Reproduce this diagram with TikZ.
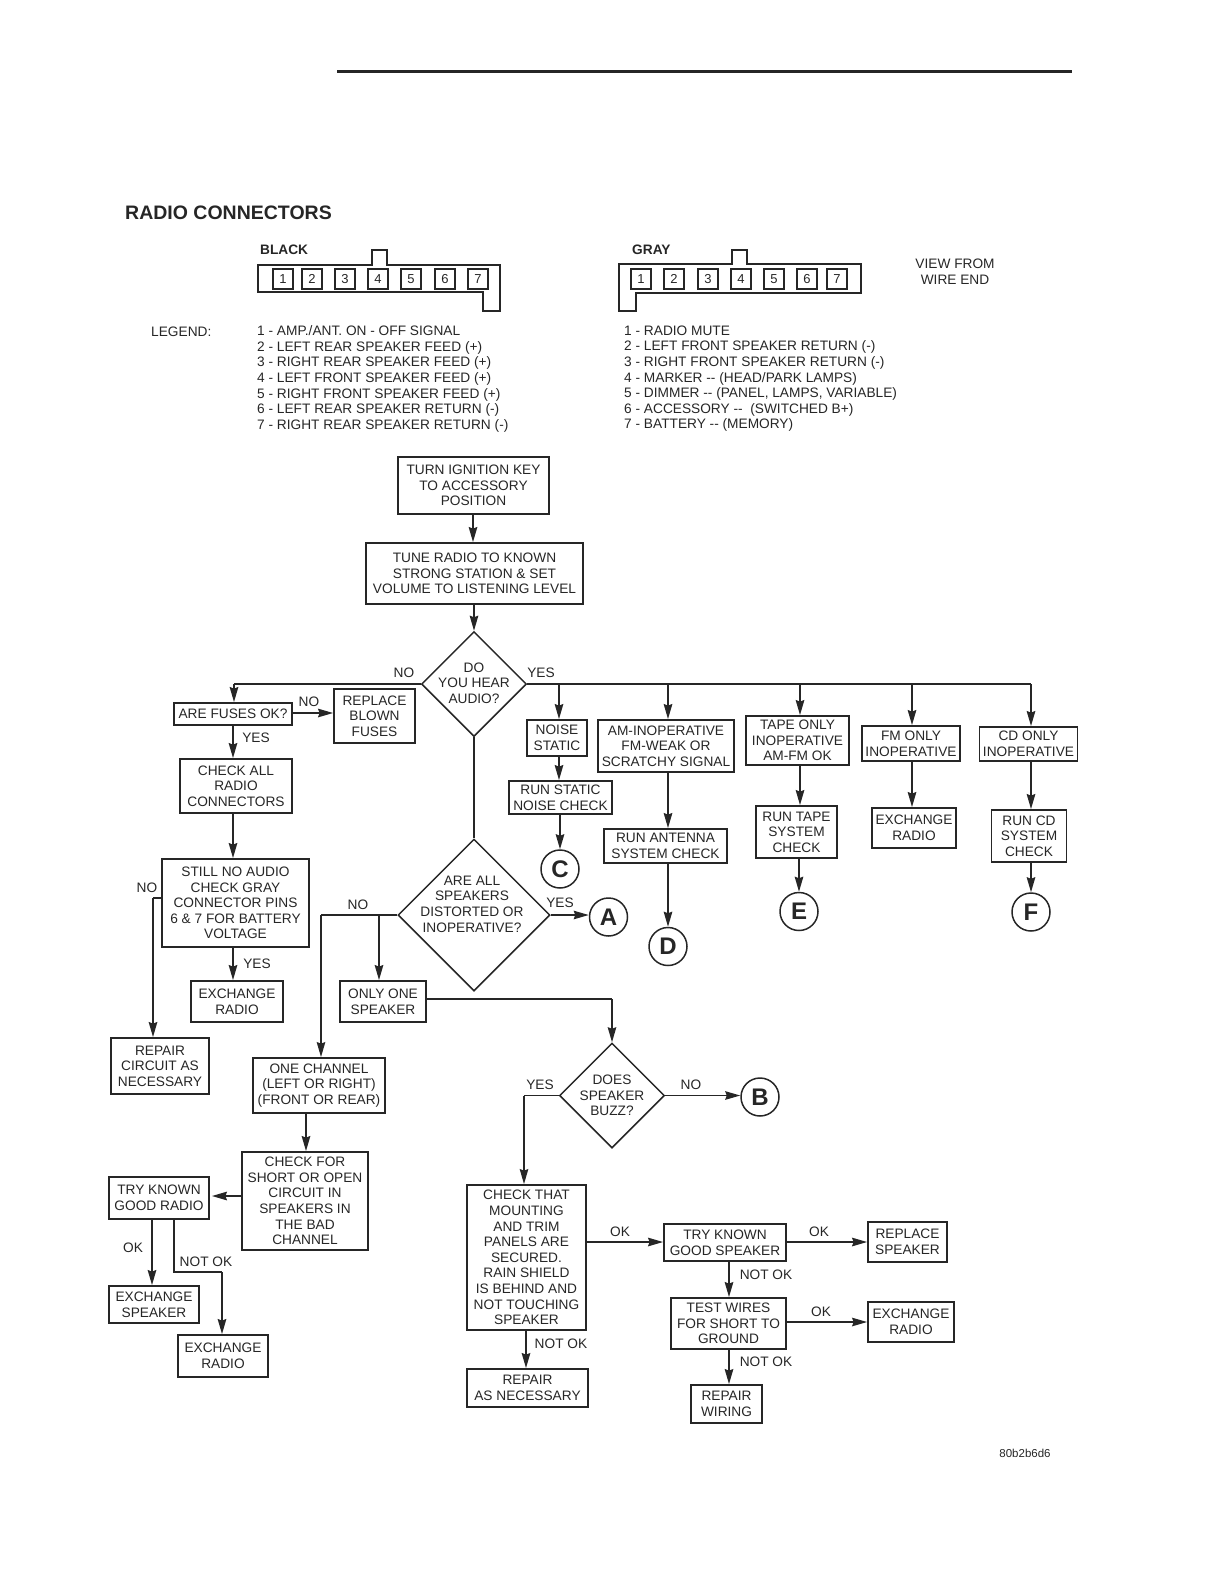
\documentclass[tikz,border=0pt]{standalone}
\usepackage{fontspec}
\setmainfont{Liberation Sans}
\usetikzlibrary{
    positioning,
    arrows.meta,
    shapes.geometric,
}
\colorlet{ink}{black!85}
\tikzset{
    % Node styles
    box/.style={rectangle, draw=ink, line width=1.8pt, inner sep=0pt, align=center,
                text=ink, font=\fontsize{13.7}{15.6}\selectfont},
    decision/.style={diamond, draw=ink, line width=1.5pt, aspect=1, inner sep=0pt},
    qtext/.style={align=center, text=ink, inner sep=0pt, font=\fontsize{13.7}{15.6}\selectfont},
    jump/.style={circle, draw=ink, line width=1.5pt, minimum size=38pt, inner sep=0pt,
                 text=ink, font=\fontsize{24}{24}\bfseries\selectfont},
    pinbox/.style={rectangle, draw=ink, line width=1.6pt, minimum size=20pt, inner sep=0pt,
                   text=ink, font=\fontsize{13}{15}\selectfont},
    % Connector styles
    arrow/.style={draw=ink, line width=1.8pt, -{Stealth[length=15pt, width=8.5pt, inset=1.5pt]}},
    wire/.style={draw=ink, line width=1.5pt},
    % Text styles
    tag/.style={text=ink, inner sep=0pt, font=\fontsize{13.7}{15.6}\selectfont},
    legend/.style={tag, align=left, anchor=north west},
}
\begin{document}
\begin{tikzpicture}[x=1pt, y=-1pt]
    \useasboundingbox (0,0) rectangle (1224,1584);

    % Header
    \coordinate (rulestart) at (337,72);
    \coordinate (ruleend) at (1072,72);
    \draw[ink, line width=3pt] (rulestart) -- (ruleend);
    \node[tag, anchor=base west, font=\fontsize{19.5}{24}\bfseries\selectfont] (title) at (125,219) {RADIO CONNECTORS};

    % Connectors
    \node[tag, anchor=base west, font=\fontsize{13.7}{16}\bfseries\selectfont] (black) at (260,254) {BLACK};
    \draw[wire, line width=2pt] (258,265) -| (372,250) -| (387,265) -| (500,311) -| (483,292) -| cycle;
    \foreach \n/\x in {1/283, 2/312, 3/345, 4/378, 5/411, 6/445, 7/478}
        \node[pinbox] (bk\n) at (\x,279) {\n};

    \node[tag, anchor=base west, font=\fontsize{13.7}{16}\bfseries\selectfont] (gray) at (632,254) {GRAY};
    \draw[wire, line width=2pt] (619,264) -| (732,250) -| (747,264) -| (861,293) -| (636,311) -| cycle;
    \foreach \n/\x in {1/641, 2/674, 3/708, 4/741, 5/774, 6/807, 7/837}
        \node[pinbox] (gy\n) at (\x,279) {\n};

    \node[tag, align=center] (view) at (955,271.5) {VIEW FROM\\WIRE END};

    % Legend
    \node[tag, anchor=west] (legendtitle) at (151,332) {LEGEND:};
    \node[legend] (blacklist) at (257,325.5) {
        1 - AMP./ANT. ON - OFF SIGNAL\\
        2 - LEFT REAR SPEAKER FEED (+)\\
        3 - RIGHT REAR SPEAKER FEED (+)\\
        4 - LEFT FRONT SPEAKER FEED (+)\\
        5 - RIGHT FRONT SPEAKER FEED (+)\\
        6 - LEFT REAR SPEAKER RETURN (-)\\
        7 - RIGHT REAR SPEAKER RETURN (-)
    };
    \node[legend] (graylist) at (624,325.5) {
        1 - RADIO MUTE\\
        2 - LEFT FRONT SPEAKER RETURN (-)\\
        3 - RIGHT FRONT SPEAKER RETURN (-)\\
        4 - MARKER -{}- (HEAD/PARK LAMPS)\\
        5 - DIMMER -{}- (PANEL, LAMPS, VARIABLE)\\
        6 - ACCESSORY -{}-\ \ (SWITCHED B+)\\
        7 - BATTERY -{}- (MEMORY)
    };

    % Start of the chart
    \node[box, minimum width=151pt, minimum height=57pt] (turn) at (473.5,485.5) {TURN IGNITION KEY\\TO ACCESSORY\\POSITION};
    \node[box, minimum width=217pt, minimum height=61pt] (tune) at (474.5,573.5) {TUNE RADIO TO KNOWN\\STRONG STATION \& SET\\VOLUME TO LISTENING LEVEL};
    \node[decision, minimum width=105pt, minimum height=105pt, label={[qtext, yshift=1pt]center:DO\\YOU HEAR\\AUDIO?}] (hear) at (474,684) {};

    % No audio branch
    \node[box, minimum width=118pt, minimum height=22pt] (fuses) at (233,714) {ARE FUSES OK?};
    \node[box, minimum width=81pt, minimum height=54pt] (replace) at (374.5,716) {REPLACE\\BLOWN\\FUSES};
    \node[box, minimum width=112pt, minimum height=54pt] (chkall) at (236,786) {CHECK ALL\\RADIO\\CONNECTORS};
    \node[box, minimum width=147pt, minimum height=88pt] (still) at (235.5,903) {STILL NO AUDIO\\CHECK GRAY\\CONNECTOR PINS\\6 \& 7 FOR BATTERY\\VOLTAGE};
    \node[box, minimum width=92pt, minimum height=41pt] (exradio) at (237,1001.5) {EXCHANGE\\RADIO};
    \node[box, minimum width=98pt, minimum height=56pt] (repcircuit) at (160,1066) {REPAIR\\CIRCUIT AS\\NECESSARY};

    % Audio branches
    \node[box, minimum width=60pt, minimum height=36pt] (noise) at (557,738) {NOISE\\STATIC};
    \node[box, minimum width=103pt, minimum height=33pt] (runstatic) at (560.5,797.5) {RUN STATIC\\NOISE CHECK};
    \node[box, minimum width=136pt, minimum height=52pt] (am) at (666,746) {AM-INOPERATIVE\\FM-WEAK OR\\SCRATCHY SIGNAL};
    \node[box, minimum width=123pt, minimum height=34pt] (runant) at (665.5,846) {RUN ANTENNA\\SYSTEM CHECK};
    \node[box, minimum width=103pt, minimum height=49pt] (tape) at (797.5,740.5) {TAPE ONLY\\INOPERATIVE\\AM-FM OK};
    \node[box, minimum width=81pt, minimum height=52pt] (runtape) at (796.5,832) {RUN TAPE\\SYSTEM\\CHECK};
    \node[box, minimum width=98pt, minimum height=35pt] (fm) at (911,743.5) {FM ONLY\\INOPERATIVE};
    \node[box, minimum width=84pt, minimum height=40pt] (exfm) at (914,828) {EXCHANGE\\RADIO};
    \node[box, minimum width=98pt, minimum height=34pt] (cd) at (1028.5,744) {CD ONLY\\INOPERATIVE};
    \node[box, minimum width=75pt, minimum height=52pt] (runcd) at (1029,836) {RUN CD\\SYSTEM\\CHECK};
    \node[jump] (c) at (560,869) {C};
    \node[jump] (d) at (668,946.5) {D};
    \node[jump] (e) at (799,911.5) {E};
    \node[jump] (f) at (1031,912) {F};

    % Speakers
    \node[decision, minimum width=152pt, minimum height=152pt, label={[qtext, xshift=-2pt, yshift=11pt]center:ARE ALL\\SPEAKERS\\DISTORTED OR\\INOPERATIVE?}] (allspk) at (474,915) {};
    \node[jump] (a) at (608.5,917) {A};
    \node[box, minimum width=86pt, minimum height=41pt] (onlyone) at (383,1001.5) {ONLY ONE\\SPEAKER};
    \node[box, minimum width=132pt, minimum height=55pt] (channel) at (319,1085.5) {ONE CHANNEL\\(LEFT OR RIGHT)\\(FRONT OR REAR)};
    \node[box, minimum width=126pt, minimum height=98pt] (chkshort) at (305,1201) {CHECK FOR\\SHORT OR OPEN\\CIRCUIT IN\\SPEAKERS IN\\THE BAD\\CHANNEL};
    \node[box, minimum width=100pt, minimum height=42pt] (tryradio) at (159,1198) {TRY KNOWN\\GOOD RADIO};
    \node[box, minimum width=90pt, minimum height=37pt] (exspk) at (154,1304.5) {EXCHANGE\\SPEAKER};
    \node[box, minimum width=90pt, minimum height=42pt] (exradiob) at (223,1356) {EXCHANGE\\RADIO};

    % Buzz
    \node[decision, minimum width=105pt, minimum height=105pt, label={[qtext]center:DOES\\SPEAKER\\BUZZ?}] (buzz) at (612,1095.5) {};
    \node[jump] (b) at (760,1097) {B};
    \node[box, minimum width=119pt, minimum height=145pt] (chkmount) at (526.5,1257.5) {CHECK THAT\\MOUNTING\\AND TRIM\\PANELS ARE\\SECURED.\\RAIN SHIELD\\IS BEHIND AND\\NOT TOUCHING\\SPEAKER};
    \node[box, minimum width=121pt, minimum height=38pt] (repair) at (527.5,1388) {REPAIR\\AS NECESSARY};
    \node[box, minimum width=122pt, minimum height=37pt] (tryspk) at (725,1242.5) {TRY KNOWN\\GOOD SPEAKER};
    \node[box, minimum width=79pt, minimum height=40pt] (repspk) at (907.5,1242) {REPLACE\\SPEAKER};
    \node[box, minimum width=115pt, minimum height=51pt] (wires) at (728.5,1323.5) {TEST WIRES\\FOR SHORT TO\\GROUND};
    \node[box, minimum width=86pt, minimum height=40pt] (exwires) at (911,1322) {EXCHANGE\\RADIO};
    \node[box, minimum width=71pt, minimum height=38pt] (repwire) at (726.5,1404) {REPAIR\\WIRING};

    % Junctions
    \coordinate (hearno) at (234,684);
    \coordinate (allno) at (321,915);
    \coordinate (allbranch) at (379,915);
    \coordinate (onlyturn) at (612,999);
    \coordinate (stillturn) at (153,898);
    \coordinate (buzzturn) at (524,1095.5);
    \coordinate (trunkend) at (1031,684);
    \coordinate (radiodrop) at (174,1272);
    \coordinate (radioturn) at (222,1272);

    % Arrows
    \draw[arrow] (473,0 |- turn.south) -- (473,0 |- tune.north);
    \draw[arrow] (474,0 |- tune.south) -- (hear.north);
    \draw[wire] (hear.west) -- (hearno);
    \draw[arrow] (hearno) -- (hearno |- fuses.north);
    \draw[arrow] (fuses.east |- 0,713) -- (replace.west |- 0,713);
    \draw[arrow] (233,0 |- fuses.south) -- (233,0 |- chkall.north);
    \draw[arrow] (233,0 |- chkall.south) -- (233,0 |- still.north);
    \draw[arrow] (233,0 |- still.south) -- (233,0 |- exradio.north);
    \draw[wire] (still.west |- stillturn) -- (stillturn);
    \draw[arrow] (stillturn) -- (stillturn |- repcircuit.north);
    \draw[wire] (hear.south) -- (allspk.north);

    % Audio branches
    \draw[wire] (hear.east) -- (trunkend);
    \foreach \x/\target in {559/noise, 668/am, 800/tape, 912/fm}
        \draw[arrow] (\x,684) -- (\x,0 |- \target.north);
    \draw[arrow] (trunkend) -- (trunkend |- cd.north);
    \draw[arrow] (559,0 |- noise.south) -- (559,0 |- runstatic.north);
    \draw[arrow] (560,0 |- runstatic.south) -- (c.north);
    \draw[arrow] (668,0 |- am.south) -- (668,0 |- runant.north);
    \draw[arrow] (668,0 |- runant.south) -- (d.north);
    \draw[arrow] (800,0 |- tape.south) -- (800,0 |- runtape.north);
    \draw[arrow] (799,0 |- runtape.south) -- (e.north);
    \draw[arrow] (912,0 |- fm.south) -- (912,0 |- exfm.north);
    \draw[arrow] (1031,0 |- cd.south) -- (1031,0 |- runcd.north);
    \draw[arrow] (1031,0 |- runcd.south) -- (f.north);

    % Speaker arrows
    \draw[arrow, line width=1.5pt] (allspk.east) -- (a.west |- allspk.east);
    \draw[wire] (allspk.west) -- (allno);
    \draw[arrow, line width=1.5pt] (allno) -- (allno |- channel.north);
    \draw[arrow] (allbranch) -- (allbranch |- onlyone.north);
    \draw[wire] (onlyone.east |- onlyturn) -- (onlyturn);
    \draw[arrow, line width=1.5pt] (onlyturn) -- (buzz.north);
    \draw[arrow] (306,0 |- channel.south) -- (306,0 |- chkshort.north);
    \draw[arrow] (chkshort.west |- 0,1196) -- ([xshift=2pt]tryradio.east |- 0,1196);
    \draw[arrow] (152,0 |- tryradio.south) -- (152,0 |- exspk.north);
    \draw[wire, line width=1.8pt] (radiodrop |- tryradio.south) -- (radiodrop) -- (radioturn);
    \draw[arrow] (radioturn) -- (radioturn |- exradiob.north);

    % Buzz arrows
    \draw[arrow, line width=1.5pt] (buzz.east) -- (b.west |- buzz.east);
    \draw[wire] (buzz.west) -- (buzzturn);
    \draw[arrow, line width=1.5pt] (buzzturn) -- (buzzturn |- chkmount.north);
    \draw[arrow] (526,0 |- chkmount.south) -- (526,0 |- repair.north);
    \draw[arrow] (chkmount.east |- 0,1242) -- (tryspk.west |- 0,1242);
    \draw[arrow] (tryspk.east |- 0,1242) -- (repspk.west |- 0,1242);
    \draw[arrow] (729,0 |- tryspk.south) -- (729,0 |- wires.north);
    \draw[arrow, line width=1.5pt] (wires.east |- 0,1322) -- (exwires.west |- 0,1322);
    \draw[arrow] (729,0 |- wires.south) -- (729,0 |- repwire.north);

    % Connector labels
    \node[tag] (lhearno) at (404,673) {NO};
    \node[tag] (lhearyes) at (541,672.5) {YES};
    \node[tag] (lfuseno) at (309,702) {NO};
    \node[tag] (lfuseyes) at (256,738) {YES};
    \node[tag] (lstillno) at (147,888) {NO};
    \node[tag] (lstillyes) at (257,964) {YES};
    \node[tag] (lallno) at (358,905) {NO};
    \node[tag] (lallyes) at (560,902.5) {YES};
    \node[tag] (lradook) at (133,1248) {OK};
    \node[tag] (lradnot) at (206,1261.5) {NOT OK};
    \node[tag] (lbuzzyes) at (540,1085) {YES};
    \node[tag] (lbuzzno) at (691,1085) {NO};
    \node[tag] (lmountok) at (620,1232) {OK};
    \node[tag] (lmountnot) at (561,1344) {NOT OK};
    \node[tag] (lspkok) at (819,1232) {OK};
    \node[tag] (lspknot) at (766,1275) {NOT OK};
    \node[tag] (lwireok) at (821,1312) {OK};
    \node[tag] (lwirenot) at (766,1362) {NOT OK};

    % Drawing number
    \node[tag, font=\fontsize{11.5}{12}\selectfont] (drawno) at (1025,1453) {80b2b6d6};
\end{tikzpicture}
\end{document}
